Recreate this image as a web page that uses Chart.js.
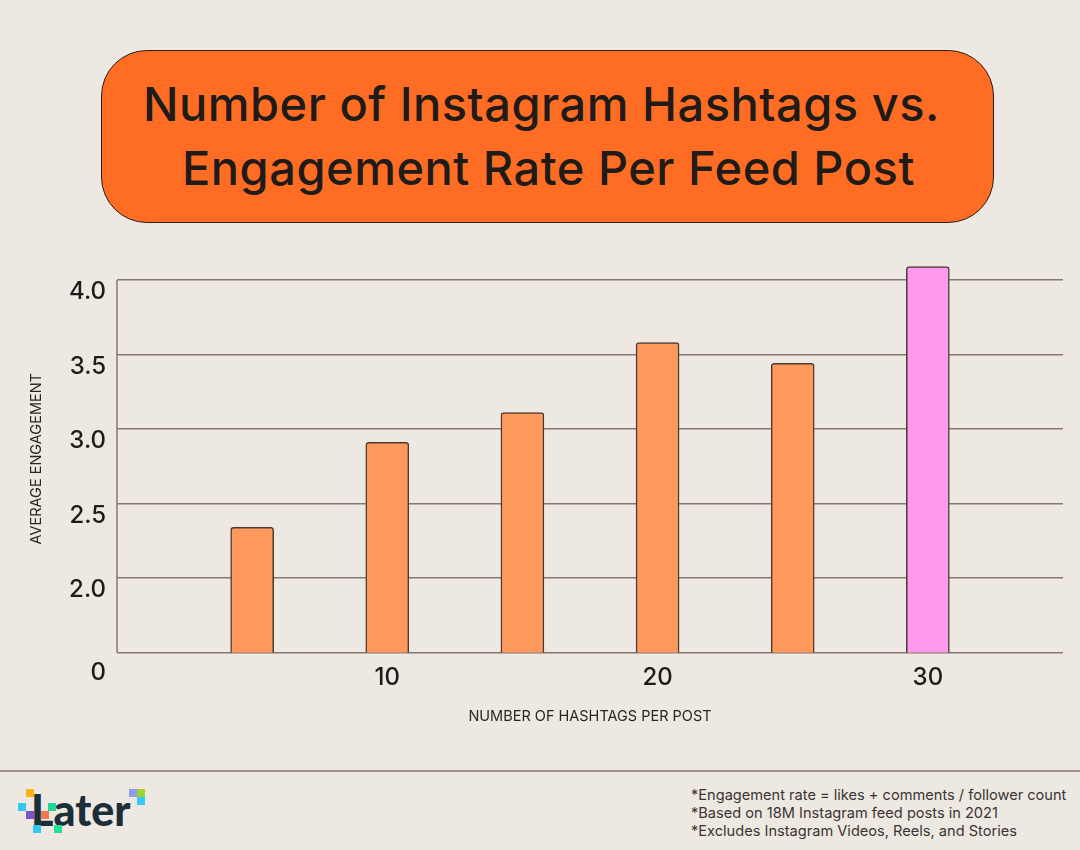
<!DOCTYPE html>
<html lang="en">
<head>
    <meta charset="UTF-8">
    <title>Number of Instagram Hashtags vs. Engagement Rate Per Feed Post</title>
    <script src="https://cdn.jsdelivr.net/npm/chart.js"></script>
    <style>
        html, body { margin: 0; padding: 0; }
        body {
            position: relative;
            width: 1080px;
            height: 850px;
            overflow: hidden;
            background-color: #eee8e2;
            font-family: Inter, sans-serif;
            color: #1f1b18;
        }
        .title-box {
            position: absolute;
            left: 101px;
            top: 50px;
            width: 891px;
            height: 171px;
            background-color: #ff6d24;
            border: 1px solid #2a2019;
            border-radius: 46px;
        }
        .title-box div {
            position: absolute;
            white-space: nowrap;
            font-size: 47px;
            line-height: 54px;
            font-weight: 500;
            letter-spacing: 0.5px;
        }
        #chart-wrap { position: absolute; left: 0; top: 250px; width: 1080px; height: 500px; }
        .rule { position: absolute; left: 0; top: 770px; width: 1080px; height: 2px; background-color: #9c928b; }
        .notes { position: absolute; left: 691px; top: 786px; font-size: 14.6px; line-height: 18px; color: #3a3532; white-space: nowrap; }
        .logo-text { position: absolute; left: 31px; top: 784px; font-family: Lato, sans-serif; font-weight: 900; font-size: 43px; line-height: 52px; color: #1c2f38; }
        .px { position: absolute; width: 8px; height: 8px; }
    </style>
</head>
<body>

    <div class="title-box">
        <div style="left: 41px; top: 26px;">Number of Instagram Hashtags vs.</div>
        <div style="left: 80px; top: 90px;">Engagement Rate Per Feed Post</div>
    </div>

    <div id="chart-wrap"><canvas id="hashtagChart" width="1080" height="500"></canvas></div>

    <div class="rule"></div>

    <!-- Later logo -->
    <div class="logo-text">Later</div>
    <div class="px" style="left:26px;top:789px;background:#f9b115"></div>
    <div class="px" style="left:18px;top:803px;background:#35c8f5"></div>
    <div class="px" style="left:26px;top:811px;background:#7a55c7"></div>
    <div class="px" style="left:41px;top:811px;background:#f2764a"></div>
    <div class="px" style="left:48px;top:803px;background:#1fd69a"></div>
    <div class="px" style="left:33px;top:825px;background:#35c8f5"></div>
    <div class="px" style="left:54px;top:825px;background:#1fe39a"></div>
    <div class="px" style="left:129px;top:789px;background:#8f9df0"></div>
    <div class="px" style="left:137px;top:789px;background:#9bd62e"></div>
    <div class="px" style="left:137px;top:797px;background:#35c8f5"></div>

    <div class="notes">
        *Engagement rate = likes + comments / follower count<br>
        *Based on 18M Instagram feed posts in 2021<br>
        *Excludes Instagram Videos, Reels, and Stories
    </div>

    <script>
        // Values
        const hashtags = [5, 10, 15, 20, 25, 30];
        const engagement = [2.34, 2.91, 3.11, 3.58, 3.44, 4.09];
        const barColors = ['#ff9a5c', '#ff9a5c', '#ff9a5c', '#ff9a5c', '#ff9a5c', '#ff99ee'];

        const xTicks = [10, 20, 30];
        const yTicks = [1.5, 2, 2.5, 3, 3.5, 4];
        // The bottom of the axis is labelled 0 in the original, it is a broken axis
        const yTickLabels = [['', '0'], '2.0', '2.5', '3.0', '3.5', '4.0'];

        // Left axis line stops at the top gridline, the last bar goes above it
        const axisLine = {
            id: 'axisLine',
            beforeDatasetsDraw(chart) {
                const y = chart.scales.y;
                const c = chart.ctx;
                c.save();
                c.strokeStyle = '#85796f';
                c.lineWidth = 1.5;
                c.beginPath();
                c.moveTo(y.right, y.getPixelForValue(yTicks[yTicks.length - 1]));
                c.lineTo(y.right, y.getPixelForValue(yTicks[0]));
                c.stroke();
                c.restore();
            }
        };

        const ctx = document.getElementById('hashtagChart').getContext('2d');
        const hashtagChart = new Chart(ctx, {
            type: 'bar',
            data: {
                datasets: [{
                    data: hashtags.map((h, i) => ({ x: h, y: engagement[i] })),
                    backgroundColor: barColors,
                    borderColor: '#4a3a30',
                    borderWidth: 1.5,
                    borderRadius: 3,
                    borderSkipped: false,
                    barThickness: 43
                }]
            },
            plugins: [axisLine],
            options: {
                responsive: false,
                animation: false,
                layout: { padding: { top: 15, right: 17, left: 0, bottom: 0 } },
                plugins: { legend: { display: false }, tooltip: { enabled: false } },
                scales: {
                    x: {
                        type: 'linear',
                        offset: false,
                        min: 0,
                        max: 35,
                        afterBuildTicks: (scale) => { scale.ticks = xTicks.map(v => ({ value: v })); },
                        afterFit: (scale) => { scale.height = 97.5; },
                        grid: { display: false, drawTicks: false, offset: false },
                        border: { display: false },
                        ticks: {
                            padding: 11,
                            maxRotation: 0,
                            color: '#1f1b18',
                            font: { family: 'Inter', size: 24, weight: '500' }
                        },
                        title: {
                            display: true,
                            text: 'NUMBER OF HASHTAGS PER POST',
                            color: '#2b2623',
                            font: { family: 'Inter', size: 14.5 },
                            padding: { top: 10, bottom: 25 }
                        }
                    },
                    y: {
                        min: 1.5,
                        max: 4.1,
                        afterBuildTicks: (scale) => { scale.ticks = yTicks.map(v => ({ value: v })); },
                        afterFit: (scale) => {
                            scale.width = 117;
                            // no extra room for the tick labels, the plot has fixed edges
                            scale.paddingTop = 0;
                            scale.paddingBottom = 0;
                        },
                        grid: { color: '#85796f', lineWidth: 1.5, drawTicks: false },
                        border: { display: false },
                        ticks: {
                            padding: 11,
                            labelOffset: 12,
                            color: '#1f1b18',
                            font: { family: 'Inter', size: 24, weight: '500', lineHeight: 0.65 },
                            callback: (value, i) => yTickLabels[i]
                        },
                        title: {
                            display: true,
                            text: 'AVERAGE ENGAGEMENT',
                            color: '#2b2623',
                            font: { family: 'Inter', size: 14.5 },
                            padding: { top: 28, bottom: 4 }
                        }
                    }
                }
            }
        });
    </script>

</body>
</html>
